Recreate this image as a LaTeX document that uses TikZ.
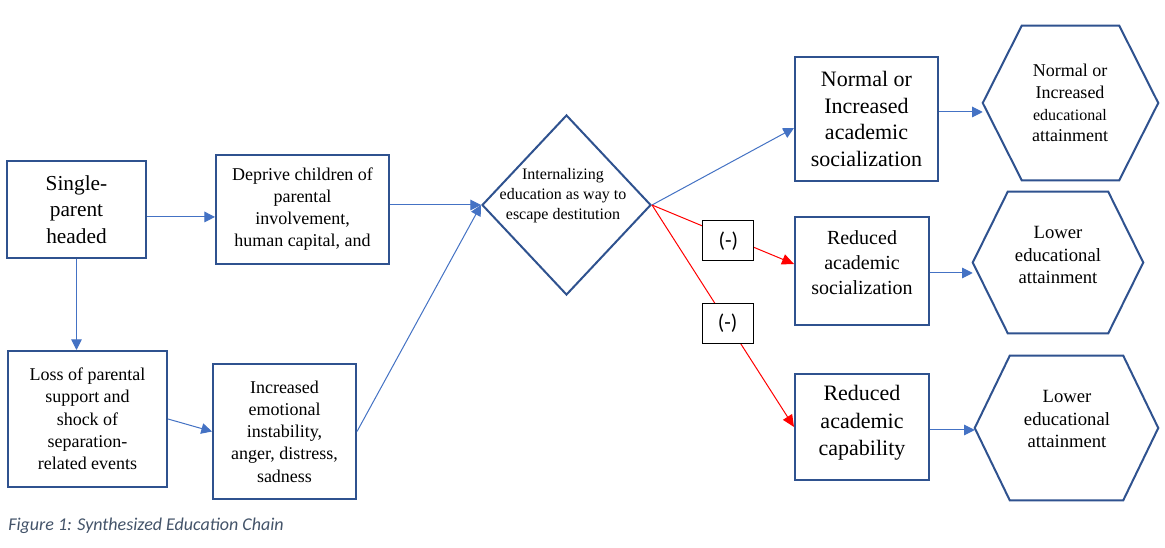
\documentclass[tikz,border=0pt]{standalone}
\usepackage{fontspec}
\setmainfont{Liberation Serif}
\newfontfamily\calibri{Carlito}
\usetikzlibrary{arrows.meta,shapes.geometric,calc}
\definecolor{boxblue}{HTML}{2F528F}
\definecolor{arrblue}{HTML}{4472C4}
\definecolor{capgray}{HTML}{44546A}
\tikzset{
  box/.style={draw=boxblue, line width=1.5pt, inner sep=0pt, align=center},
  sz/.style 2 args={minimum width=#1*0.75pt, minimum height=#2*0.75pt},
  hexline/.style={draw=boxblue, line width=1.5pt, line join=miter},
  barrow/.style={draw=arrblue, line width=0.75pt, -{Triangle[length=8pt,width=8pt]}},
  rarrow/.style={draw=red, line width=0.75pt, -{Triangle[length=9pt,width=8pt]}},
  negbox/.style={draw=black, line width=0.75pt, fill=white, font=\calibri\fontsize{16}{18}\selectfont, minimum width=38.25pt, minimum height=30pt, inner sep=0pt},
  ttext/.style={align=center, inner sep=0pt},
}
\begin{document}
\begin{tikzpicture}[x=0.75pt,y=-0.75pt]
\useasboundingbox[fill=white] (0,0) rectangle (1165,548);

% left column
\node[box, sz={139}{97}, font=\fontsize{16}{20}\selectfont] (sp) at (76.5,209.5) {Single-\\parent\\headed};
\node[box, sz={173}{109}, font=\fontsize{13.5}{16.5}\selectfont] (dep) at (302.5,209.5) {Deprive children of\\parental\\involvement,\\human capital, and};
\node[box, sz={159}{136}, font=\fontsize{13.5}{16.7}\selectfont] (loss) at (87.5,419) {Loss of parental\\support and\\shock of\\separation-\\related events};
\node[box, sz={143}{135}, font=\fontsize{13.5}{16.7}\selectfont] (inc) at (284.5,431.5) {Increased\\emotional\\instability,\\anger, distress,\\sadness};

% diamond
\node[diamond, draw=boxblue, line width=1.5pt, sz={169}{180}, inner sep=0pt] (dia) at (566.5,205) {};
\node[ttext, font=\fontsize{12}{15}\selectfont] (diat) at (563,196) {Internalizing\\education as way to\\escape destitution};

% middle-right boxes
\node[box, sz={143}{124}, font=\fontsize{16.5}{20}\selectfont] (nor) at (866.5,119) {Normal or\\Increased\\academic\\socialization};
\node[box, sz={134}{108}] (rs) at (862,271) {};
\node[ttext, font=\fontsize{15}{18.75}\selectfont] (rst) at (862,263) {Reduced\\academic\\socialization};
\node[box, sz={134}{106}] (rc) at (862,427) {};
\node[ttext, font=\fontsize{16.5}{20.5}\selectfont] (rct) at (862,423) {Reduced\\academic\\capability};

% hexagons
\node[sz={175}{154}, inner sep=0pt] (h1) at (1070.5,103) {};
\draw[hexline] (h1.west) -- ($(h1.north west)+(39,0)$) -- ($(h1.north east)+(-39,0)$) -- (h1.east) -- ($(h1.south east)+(-39,0)$) -- ($(h1.south west)+(39,0)$) -- cycle;
\node[ttext, font=\fontsize{13.5}{16.3}\selectfont] (h1t) at (1070,103) {Normal or\\Increased\\{\fontsize{12}{16.3}\selectfont educational}\\attainment};

\node[sz={170}{141}, inner sep=0pt] (h2) at (1058,262.5) {};
\draw[hexline] (h2.west) -- ($(h2.north west)+(35,0)$) -- ($(h2.north east)+(-35,0)$) -- (h2.east) -- ($(h2.south east)+(-35,0)$) -- ($(h2.south west)+(35,0)$) -- cycle;
\node[ttext, font=\fontsize{14}{17}\selectfont] (h2t) at (1058,255) {Lower\\educational\\attainment};

\node[sz={183}{144}, inner sep=0pt] (h3) at (1066.5,428) {};
\draw[hexline] (h3.west) -- ($(h3.north west)+(35,0)$) -- ($(h3.north east)+(-35,0)$) -- (h3.east) -- ($(h3.south east)+(-35,0)$) -- ($(h3.south west)+(35,0)$) -- cycle;
\node[ttext, font=\fontsize{14}{17}\selectfont] (h3t) at (1067,419) {Lower\\educational\\attainment};

% connectors
\draw[barrow] ([yshift=-5.6pt]sp.east) -- ([yshift=-5.6pt]sp.east -| dep.west);
\draw[barrow] (sp.south) -- (sp.south |- loss.north);
\draw[barrow] (loss.east) -- (inc.west);
\draw[barrow] (dep.east |- dia.west) -- (dia.west);
\draw[barrow] (inc.east) -- (dia.west);
\draw[barrow] (dia.east) -- ([yshift=-6.75pt]nor.west);
\draw[rarrow] (dia.east) -- node[negbox, pos=0.538, yshift=-3pt] (m1) {(-)} ([yshift=5.25pt]rs.west);
\draw[rarrow] (dia.east) -- node[negbox, pos=0.532] (m2) {(-)} (rc.west);
\draw[barrow] ([yshift=5.25pt]nor.east) -- ([yshift=5.25pt]nor.east -| h1.west);
\draw[barrow] ([yshift=-1.5pt]rs.east) -- ([yshift=-1.5pt]rs.east -| h2.west);
\draw[barrow] ([yshift=-2.25pt]rc.east) -- ([yshift=-2.25pt]rc.east -| h3.west);

% caption
\node[anchor=west, inner sep=0pt, font=\calibri\itshape\fontsize{13.5}{16}\selectfont, text=capgray] (cap) at (8,526) {Figure 1: Synthesized Education Chain};
\end{tikzpicture}
\end{document}
